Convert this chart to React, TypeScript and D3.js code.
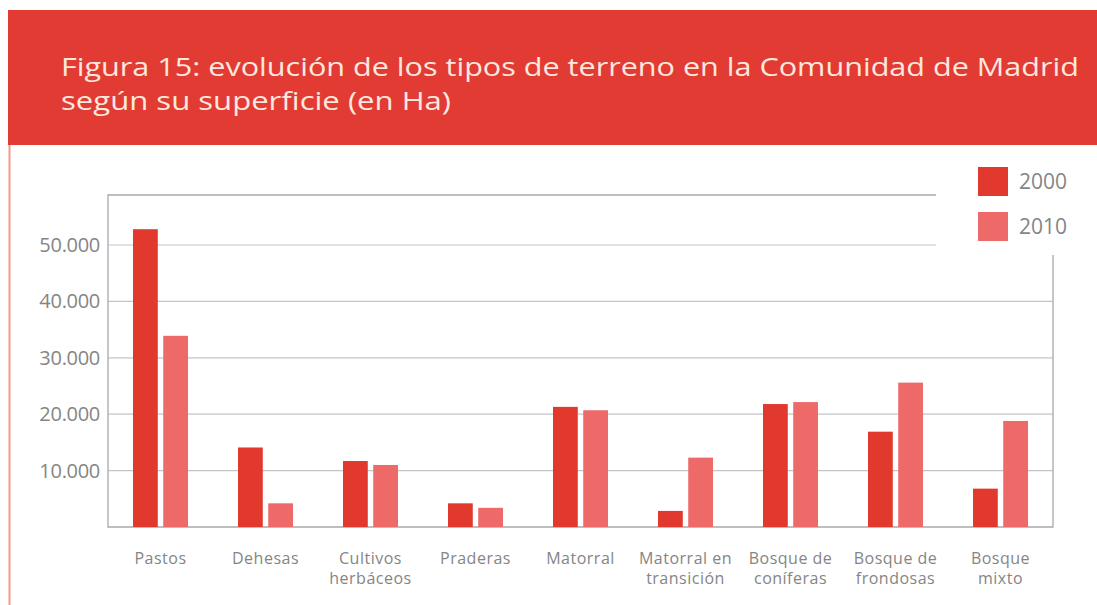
import React, { useRef, useEffect } from "react";
import * as d3 from "d3";

const categories = [
  ["Pastos"],
  ["Dehesas"],
  ["Cultivos", "herbáceos"],
  ["Praderas"],
  ["Matorral"],
  ["Matorral en", "transición"],
  ["Bosque de", "coníferas"],
  ["Bosque de", "frondosas"],
  ["Bosque", "mixto"],
];
const series = ["2000", "2010"];
const values2000 = [52800, 14100, 11700, 4200, 21300, 2850, 21800, 16900, 6800];
const values2010 = [33900, 4200, 11000, 3400, 20700, 12300, 22150, 25600, 18800];
const yTicks = [10000, 20000, 30000, 40000, 50000];

const colors = ["#e2392f", "#ee6a68"];
const FONT = "'Open Sans', 'DejaVu Sans', sans-serif";

const W = 1097;
const H = 605;

const App = () => {
  const svgRef = useRef<SVGSVGElement | null>(null);

  useEffect(() => {
    const svg = d3.select(svgRef.current);
    svg.selectAll("*").remove();

    // page background + header band
    svg.append("rect").attr("width", W).attr("height", H).attr("fill", "#fff");
    svg.append("rect")
      .attr("x", 8).attr("y", 10).attr("width", W - 8).attr("height", 135)
      .attr("fill", "#e23b33");
    svg.append("line")
      .attr("x1", 9.5).attr("x2", 9.5).attr("y1", 145).attr("y2", H)
      .attr("stroke", "#f19a88").attr("stroke-width", 2);

    const title = svg.append("g").attr("fill", "#fde8df")
      .style("font-family", FONT).style("font-size", "25px");
    title.append("text").attr("x", 61).attr("y", 76)
      .attr("textLength", 1018).attr("lengthAdjust", "spacingAndGlyphs")
      .text("Figura 15: evolución de los tipos de terreno en la Comunidad de Madrid");
    title.append("text").attr("x", 61).attr("y", 110)
      .attr("textLength", 390).attr("lengthAdjust", "spacingAndGlyphs")
      .text("según su superficie (en Ha)");

    // scales
    const left = 108, right = 1053, top = 195, bottom = 527;
    const x = d3.scaleBand<number>()
      .domain(d3.range(categories.length))
      .range([left, right]);
    const xs = d3.scaleBand<string>()
      .domain(series)
      .range([0, 55])
      .paddingInner(0.18);
    const y = d3.scaleLinear().domain([0, 50000]).range([bottom, 245]);

    const g = svg.append("g");

    // grid
    g.selectAll("line.grid")
      .data(yTicks)
      .join("line")
      .attr("class", "grid")
      .attr("x1", left).attr("x2", right)
      .attr("y1", d => y(d)).attr("y2", d => y(d))
      .attr("stroke", "#c4c4c4").attr("stroke-width", 1.2);

    // frame
    g.append("path")
      .attr("d", `M${left},${bottom}V${top}H${right}V${bottom}Z`)
      .attr("fill", "none").attr("stroke", "#a9a9a9").attr("stroke-width", 1.3);

    // y labels
    g.selectAll("text.ytick")
      .data(yTicks)
      .join("text")
      .attr("class", "ytick")
      .attr("x", 100).attr("y", d => y(d)).attr("dy", "0.35em")
      .attr("text-anchor", "end")
      .attr("fill", "#858585")
      .style("font-family", FONT).style("font-size", "20px")
      .attr("letter-spacing", "-0.3")
      .text(d => d3.format(",")(d).replace(/,/g, "."));

    // bars
    const allValues = [values2000, values2010];
    series.forEach((s, si) => {
      g.selectAll(`rect.bar-${s}`)
        .data(allValues[si])
        .join("rect")
        .attr("class", `bar-${s}`)
        .attr("x", (_d, i) => (x(i) as number) + x.bandwidth() / 2 - 27.5 + (xs(s) as number))
        .attr("y", d => y(d))
        .attr("width", xs.bandwidth())
        .attr("height", d => bottom - y(d))
        .attr("fill", colors[si]);
    });

    // category labels
    const labels = g.selectAll("text.cat")
      .data(categories)
      .join("text")
      .attr("class", "cat")
      .attr("x", (_d, i) => (x(i) as number) + x.bandwidth() / 2)
      .attr("y", 564)
      .attr("text-anchor", "middle")
      .attr("fill", "#858585")
      .attr("letter-spacing", "0.5")
      .style("font-family", FONT).style("font-size", "16px");
    labels.selectAll("tspan")
      .data(d => d)
      .join("tspan")
      .attr("x", function () {
        return (this.parentNode as SVGTextElement).getAttribute("x");
      })
      .attr("dy", (_d, i) => (i === 0 ? 0 : 20))
      .text(d => d);

    // legend
    const lg = svg.append("g");
    lg.append("rect")
      .attr("x", 936).attr("y", 150).attr("width", 161).attr("height", 105)
      .attr("fill", "#fff");
    series.forEach((s, si) => {
      lg.append("rect")
        .attr("x", 978).attr("y", 167 + si * 45).attr("width", 30).attr("height", 29)
        .attr("fill", colors[si]);
      lg.append("text")
        .attr("x", 1019).attr("y", 182 + si * 45).attr("dy", "0.35em")
        .attr("fill", "#858585")
        .style("font-family", FONT).style("font-size", "21px")
        .text(s);
    });
  }, []);

  return (
    <svg
      ref={svgRef}
      width={W}
      height={H}
      style={{ position: "absolute", left: 0, top: 0, display: "block" }}
    />
  );
};

export default App;
